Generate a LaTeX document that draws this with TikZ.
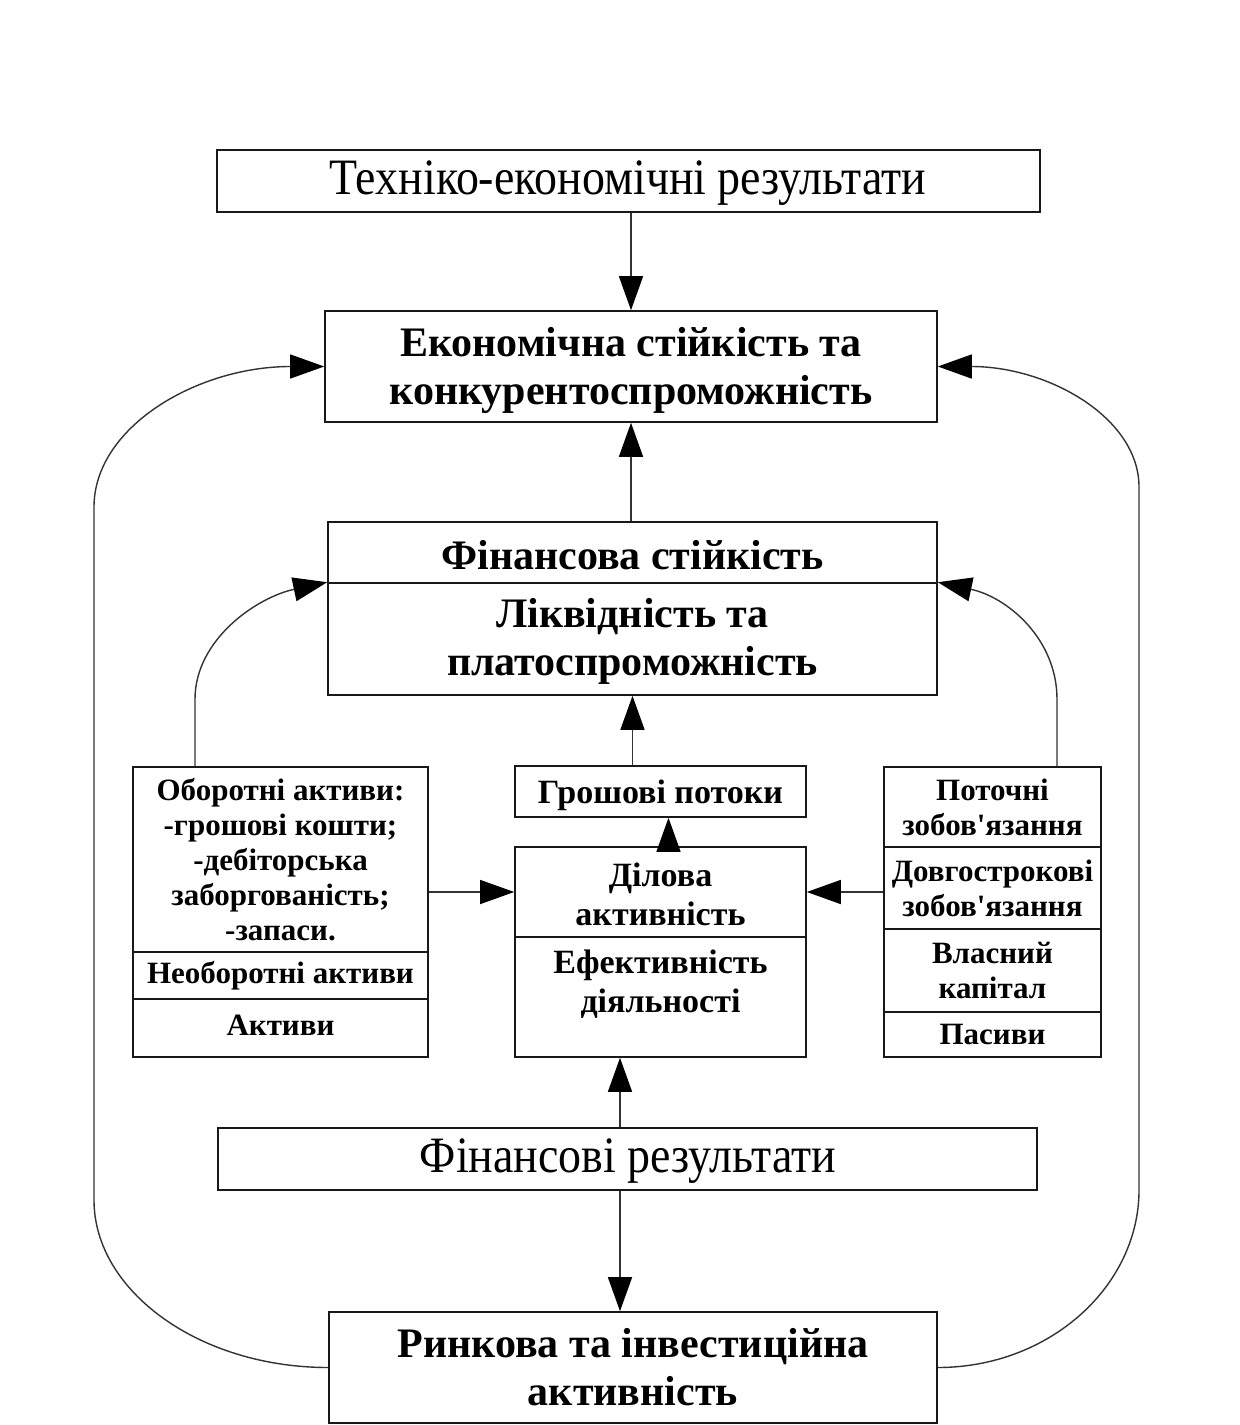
\documentclass[tikz,border=0pt]{standalone}
\usepackage{fontspec}
\newfontfamily\lib{Liberation Serif}
\usetikzlibrary{arrows.meta,calc}
\newcommand{\narrowtxt}[1]{\scalebox{0.9}[1]{#1}}
\begin{document}
\begin{tikzpicture}[x=1pt,y=-1pt,
  box/.style={draw=black!90, line width=1.6pt, inner sep=0pt, align=center, text=black},
  txt/.style={inner sep=0pt, align=center, text=black},
  conn/.style={draw=black!80, line width=1.4pt},
  arr/.style={conn, -{Triangle[length=34pt,width=24pt,color=black,fill=black]}},
  big/.style={font=\lib\fontsize{51}{56}\selectfont},
  mid/.style={font=\lib\bfseries\fontsize{42}{48}\selectfont},
  med/.style={font=\lib\bfseries\fontsize{34}{39}\selectfont},
  sml/.style={font=\lib\bfseries\fontsize{31}{35}\selectfont},
]
\useasboundingbox[fill=white] (0,0) rectangle (1240,1425);

% top boxes
\node[box, minimum width=823pt, minimum height=62pt] (tech) at (628.5,181) {};
\node[txt, big] (techT) at (628,183) {\narrowtxt{Техніко-економічні результати}};
\node[box, minimum width=612pt, minimum height=111pt] (econ) at (631,366.5) {};
\node[txt, mid] (econT) at (631,370) {Економічна стійкість та\\конкурентоспроможність};
\node[box, minimum width=609pt, minimum height=61pt] (fin) at (632.5,552.5) {};
\node[txt, mid] (finT) at (632.5,555) {Фінансова стійкість};
\node[box, minimum width=609pt, minimum height=112pt] (liq) at (632.5,639) {};
\node[txt, mid] (liqT) at (632.5,641) {Ліквідність та\\платоспроможність};

% middle column
\node[box, minimum width=291pt, minimum height=51pt] (cash) at (660.5,791.5) {};
\node[txt, med] (cashT) at (660.5,795) {Грошові потоки};
\node[box, minimum width=291pt, minimum height=90pt] (bus) at (660.5,892) {};
\node[txt, med] (busT) at (660.5,894) {Ділова\\активність};
\node[box, minimum width=291pt, minimum height=120pt] (eff) at (660.5,997) {};
\node[txt, med] (effT) at (660.5,984) {Ефективність\\діяльності};

% left column
\node[box, sml, minimum width=295pt, minimum height=185pt] (oa) at (280.5,859.5) {Оборотні активи:\\-грошові кошти;\\-дебіторська\\заборгованість;\\-запаси.};
\node[box, sml, minimum width=295pt, minimum height=47pt] (noa) at (280.5,975.5) {Необоротні активи};
\node[box, minimum width=295pt, minimum height=58pt] (act) at (280.5,1028) {};
\node[txt, sml] (actT) at (280.5,1025) {Активи};

% right column
\node[box, sml, minimum width=217pt, minimum height=80pt] (pc) at (992.5,807) {Поточні\\зобов'язання};
\node[box, sml, minimum width=217pt, minimum height=82pt] (lt) at (992.5,888) {Довгострокові\\зобов'язання};
\node[box, sml, minimum width=217pt, minimum height=83pt] (eq) at (992.5,970.5) {Власний\\капітал};
\node[box, sml, minimum width=217pt, minimum height=45pt] (pas) at (992.5,1034.5) {Пасиви};

% bottom boxes
\node[box, minimum width=819pt, minimum height=62pt] (finres) at (627.5,1159) {};
\node[txt, big] (finresT) at (628,1161) {\narrowtxt{Фінансові результати}};
\node[box, mid, minimum width=608pt, minimum height=111pt] (market) at (633,1367.5) {Ринкова та інвестиційна\\активність};

% helper coordinates
\coordinate (ax) at (620,0);
\coordinate (lcx) at (195,0);
\coordinate (rcx) at (1057,0);
\coordinate (L1) at (94,1200);
\coordinate (L2) at (94,507);
\coordinate (R1) at (1139,1190);
\coordinate (R2) at (1139,487);

% straight arrows
\draw[arr] (tech.south -| econ.north) -- (econ.north);
\draw[arr] (fin.north -| econ.south) -- (econ.south);
\draw[arr] (cash.north -| liq.south) -- (liq.south);
\draw[arr] ($(bus.north)+(8,0)$) -- ($(cash.south)+(8,0)$);
\draw[arr] (oa.east |- bus.west) -- (bus.west);
\draw[arr] (lt.west |- bus.east) -- (bus.east);
\draw[arr] (finres.north -| ax) -- (eff.south -| ax);
\draw[arr] (finres.south -| ax) -- (market.north -| ax);

% small curved arrows
\draw[arr] (oa.north -| lcx) -- ++(0,-67) .. controls +(0,-60) and +(-70,15) .. (liq.north west);
\draw[arr] (pc.north -| rcx) -- ++(0,-67) .. controls +(0,-60) and +(70,15) .. (liq.north east);

% big loops
\draw[arr] (market.west) .. controls +(-129,0) and +(0,91) .. (L1) -- (L2) .. controls +(0,-80) and +(-127,0) .. (econ.west);
\draw[arr] (market.east) .. controls +(112,0) and +(0,96) .. (R1) -- (R2) .. controls +(0,-69) and +(111,0) .. (econ.east);
\end{tikzpicture}
\end{document}
